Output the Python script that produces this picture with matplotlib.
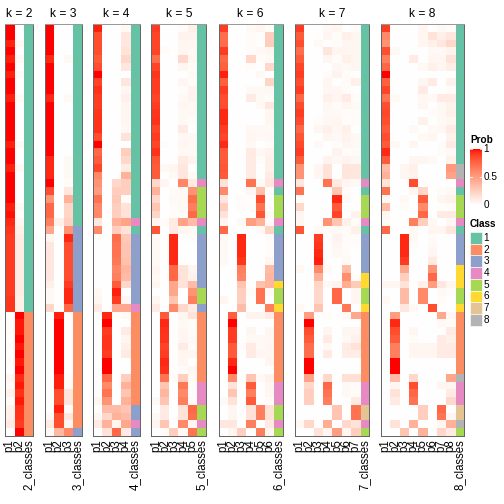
import matplotlib
matplotlib.use("Agg")
import matplotlib.pyplot as plt
import numpy as np
from matplotlib.patches import Rectangle
from matplotlib.colors import to_rgb

plt.rcParams["font.family"] = ["Liberation Sans", "DejaVu Sans"]

# class colours (Set2) used for the "k_classes" column and the legend
CLASS_COLORS = ["#66C2A5", "#FC8D62", "#8DA0CB", "#E78AC3",
                "#A6D854", "#FFD92F", "#E5C494", "#B3B3B3"]
CLASS_LABELS = ["1", "2", "3", "4", "5", "6", "7", "8"]

# ---- membership probabilities, one array per k (rows = samples) ----
p1_k2 = [1, 1, 0.96, 1, 0.97, 1, 0.97, 1, 1, 0.97, 1, 1, 1, 1, 1, 0.97, 1, 1,
         0.97, 1, 1, 1, 1, 0.97, 0.99, 0.95, 0.92, 0.9, 0.9, 0.9, 0.9, 0.9,
         0.9, 0.9, 0.9, 0.92, 0.92,
         0.0, 0.02, 0.02, 0.0, 0.02, 0.0, 0.02, 0.0, 0.05, 0.02, 0.07, 0.02,
         0.07, 0.08, 0.1, 0.0]
prob_k2 = np.column_stack([p1_k2, 1 - np.array(p1_k2)])
cls_k2 = [1] * 37 + [2] * 16

prob_k3 = np.array(
    [[1, 0, 0]] * 4 + [[0.95, 0, 0.03]] + [[1, 0, 0]] * 4 + [[0.95, 0, 0.03]]
    + [[1, 0, 0]] * 7 + [[0.95, 0, 0.03]] * 3 +
    [[1.0, 0, 0.02], [0.85, 0, 0.12], [0.55, 0, 0.4], [0.75, 0, 0.22],
     [0.75, 0, 0.22], [0.65, 0.08, 0.25], [0.45, 0, 0.55], [0.05, 0, 0.95],
     [0.12, 0, 0.85], [0.12, 0, 0.85], [0.12, 0, 0.85], [0.12, 0, 0.85],
     [0.12, 0, 0.85], [0.08, 0, 0.9], [0.03, 0, 0.95], [0.03, 0, 0.95],
     [0.2, 0, 0.75],
     [0, 0.97, 0.02], [0, 1, 0], [0, 1, 0], [0, 1, 0], [0, 1, 0], [0, 1, 0],
     [0, 1, 0], [0, 1, 0], [0, 0.97, 0.02], [0, 0.97, 0.02], [0, 0.85, 0.13],
     [0, 0.85, 0.13], [0, 0.97, 0.02], [0.03, 0.85, 0.12], [0.1, 0.85, 0.05],
     [0.03, 0.37, 0.6]])
cls_k3 = [1] * 26 + [3] * 11 + [2] * 15 + [3]

prob_k4 = np.array([
    [0.97, 0, 0, 0.03], [0.85, 0, 0, 0.12], [0.85, 0, 0, 0.12], [0.85, 0, 0, 0.15],
    [0.8, 0, 0, 0.2], [0.85, 0, 0, 0.12], [1.0, 0, 0, 0], [0.88, 0, 0, 0.12],
    [0.93, 0, 0, 0.05], [0.9, 0, 0, 0.08], [0.9, 0, 0, 0.05], [0.92, 0, 0, 0.05],
    [0.93, 0, 0, 0.05], [0.93, 0, 0, 0.04], [0.85, 0, 0, 0.15], [1.0, 0, 0, 0],
    [0.75, 0, 0, 0.25], [0.8, 0, 0, 0.2], [0.88, 0, 0, 0.1], [0.6, 0, 0, 0.4],
    [0.55, 0, 0.2, 0.25], [0.5, 0, 0.25, 0.25], [0.7, 0, 0.28, 0.02],
    [0.6, 0, 0.25, 0.15], [0.6, 0, 0.25, 0.15], [0.12, 0, 0.4, 0.48],
    [0.6, 0, 0.25, 0.15],
    [0, 0, 0.72, 0.28], [0, 0, 0.7, 0.3], [0, 0, 0.7, 0.3], [0, 0, 0.68, 0.32],
    [0, 0, 0.62, 0.38], [0, 0, 0.65, 0.35], [0, 0, 0.8, 0.2], [0.03, 0, 0.97, 0],
    [0.05, 0, 0.9, 0.05], [0.1, 0, 0.45, 0.45],
    [0, 0.95, 0.02, 0.03], [0, 1, 0, 0], [0, 0.9, 0, 0.1], [0, 0.92, 0, 0.05],
    [0, 0.92, 0, 0.08], [0, 0.9, 0, 0.1], [0, 1, 0, 0], [0, 1, 0, 0],
    [0, 0.75, 0, 0.25], [0, 0.6, 0, 0.4], [0, 0.7, 0, 0.3], [0.05, 0.55, 0, 0.4],
    [0, 0.35, 0.35, 0.3], [0.05, 0.2, 0.4, 0.35], [0.1, 0.4, 0.05, 0.45],
    [0, 0.15, 0.75, 0.1]])
cls_k4 = [1] * 25 + [4] + [1] + [3] * 9 + [4] + [2] * 12 + [3, 3] + [4] + [3]

prob_k5 = np.array([
    [0.9, 0, 0, 0.02, 0.08], [0.88, 0, 0, 0.06, 0.06], [0.88, 0, 0, 0.05, 0.05],
    [0.88, 0.02, 0, 0.05, 0.03], [0.72, 0, 0, 0.2, 0.05], [0.88, 0, 0, 0.05, 0.02],
    [0.92, 0, 0, 0, 0.03], [0.9, 0, 0, 0.05, 0.02], [0.9, 0, 0, 0.02, 0.06],
    [0.88, 0, 0, 0.03, 0.06], [0.9, 0, 0, 0.05, 0.03], [0.92, 0, 0, 0.03, 0.03],
    [0.93, 0, 0, 0.03, 0.02], [0.88, 0, 0, 0.1, 0], [0.9, 0, 0, 0.04, 0.04],
    [0.88, 0.02, 0, 0.05, 0.03], [0.93, 0, 0, 0.03, 0.03], [0.82, 0, 0, 0.1, 0.06],
    [0.8, 0.03, 0.05, 0.12, 0], [0.8, 0, 0.03, 0.12, 0.03],
    [0.2, 0.05, 0, 0.62, 0.1], [0.4, 0, 0.02, 0.03, 0.55],
    [0.2, 0, 0.03, 0.03, 0.72], [0.3, 0, 0.02, 0.03, 0.65],
    [0.22, 0, 0.02, 0.02, 0.74], [0.05, 0.02, 0.1, 0.48, 0.35],
    [0.82, 0, 0.1, 0.05, 0.03],
    [0.03, 0, 0.95, 0, 0.02], [0.03, 0, 0.95, 0, 0], [0.03, 0, 0.95, 0, 0],
    [0.03, 0, 0.95, 0, 0], [0.05, 0, 0.75, 0.15, 0.05], [0.03, 0, 0.75, 0.15, 0.07],
    [0.05, 0, 0.45, 0.15, 0.35], [0, 0, 0.45, 0, 0.55], [0.05, 0, 0.3, 0, 0.65],
    [0.1, 0, 0.6, 0.2, 0.1],
    [0, 0.8, 0, 0.05, 0.15], [0, 0.95, 0, 0.03, 0.02], [0, 0.93, 0, 0.05, 0.02],
    [0, 0.92, 0, 0.05, 0.03], [0, 0.88, 0, 0.1, 0.02], [0, 0.9, 0, 0.05, 0.05],
    [0, 0.95, 0, 0.05, 0], [0, 0.93, 0, 0.02, 0.05], [0, 0.7, 0.02, 0.25, 0.03],
    [0, 0.3, 0, 0.68, 0.02], [0, 0.38, 0, 0.6, 0.02], [0.03, 0.3, 0, 0.65, 0.02],
    [0, 0.1, 0, 0.15, 0.75], [0.03, 0.1, 0, 0.15, 0.72], [0.05, 0.3, 0, 0.6, 0.05],
    [0, 0.02, 0.25, 0.03, 0.7]])
cls_k5 = ([1] * 20 + [4] + [5] * 4 + [4] + [1] + [3] * 7 + [5, 5] + [3]
          + [2] * 9 + [4] * 3 + [5, 5] + [4] + [5])

prob_k6 = np.array([
    [0.9, 0, 0, 0.03, 0.05, 0.02], [0.72, 0, 0, 0.02, 0.01, 0.25],
    [0.72, 0, 0, 0.02, 0, 0.26], [0.9, 0, 0, 0.02, 0.03, 0.05],
    [0.75, 0, 0, 0.2, 0.02, 0.03], [0.78, 0, 0, 0.02, 0, 0.2],
    [0.97, 0, 0, 0, 0.03, 0], [0.78, 0, 0, 0, 0, 0.22],
    [0.9, 0, 0, 0.03, 0.03, 0.04], [0.85, 0, 0, 0.1, 0.03, 0.02],
    [0.85, 0, 0, 0, 0.03, 0.12], [0.95, 0, 0, 0, 0, 0.05],
    [0.95, 0, 0, 0, 0, 0.05], [0.9, 0, 0, 0.04, 0.03, 0.03],
    [0.88, 0, 0, 0.05, 0.03, 0.04], [0.95, 0, 0, 0.03, 0, 0.02],
    [0.8, 0, 0, 0.1, 0.04, 0.06], [0.8, 0, 0, 0.1, 0.02, 0.08],
    [0.82, 0, 0, 0.1, 0, 0.08], [0.8, 0, 0, 0.1, 0, 0.1],
    [0.15, 0, 0, 0.7, 0.03, 0.12], [0.6, 0, 0, 0.05, 0.33, 0.02],
    [0.12, 0, 0.02, 0.01, 0.85, 0], [0.25, 0, 0.02, 0.02, 0.7, 0.01],
    [0.15, 0, 0, 0, 0.82, 0.03], [0.05, 0, 0.03, 0.5, 0.4, 0.02],
    [0.75, 0, 0, 0, 0.03, 0.22],
    [0.03, 0, 0.95, 0, 0, 0.02], [0.03, 0, 0.95, 0, 0, 0.02],
    [0.03, 0, 0.95, 0, 0, 0.02], [0.03, 0, 0.92, 0, 0, 0.05],
    [0, 0, 0.65, 0, 0, 0.35], [0, 0, 0.62, 0, 0, 0.38],
    [0, 0, 0.3, 0, 0.32, 0.38], [0, 0, 0.25, 0.02, 0.7, 0.03],
    [0.05, 0, 0.25, 0, 0.7, 0], [0, 0, 0.35, 0, 0, 0.65],
    [0, 0.78, 0, 0.06, 0.06, 0.1], [0, 1.0, 0, 0, 0, 0],
    [0, 0.9, 0, 0.05, 0, 0.05], [0, 0.9, 0, 0.03, 0.03, 0.04],
    [0, 0.8, 0.02, 0.1, 0.03, 0.05], [0, 0.8, 0, 0.1, 0.05, 0.05],
    [0, 0.95, 0, 0, 0, 0.05], [0, 1.0, 0, 0, 0, 0],
    [0, 0.6, 0, 0.3, 0.03, 0.07], [0, 0.15, 0, 0.8, 0, 0.05],
    [0, 0.3, 0, 0.65, 0, 0.05], [0.03, 0.15, 0, 0.8, 0, 0.02],
    [0, 0.05, 0, 0.15, 0.65, 0.15], [0, 0.05, 0, 0.15, 0.65, 0.15],
    [0.12, 0.12, 0, 0.65, 0, 0.11], [0, 0.05, 0.25, 0, 0.65, 0.05]])
cls_k6 = ([1] * 20 + [4] + [1] + [5] * 3 + [4] + [1] + [3] * 6 + [6] + [5, 5]
          + [6] + [2] * 9 + [4] * 3 + [5, 5] + [4] + [5])

prob_k7 = np.array([
    [0.9, 0, 0, 0.03, 0.05, 0, 0.02], [0.8, 0, 0, 0.05, 0.02, 0.08, 0.05],
    [0.85, 0, 0.03, 0, 0.02, 0.05, 0.05], [0.72, 0, 0, 0.13, 0.05, 0.05, 0.05],
    [0.8, 0, 0, 0.05, 0.02, 0.08, 0.05], [0.88, 0, 0, 0, 0.04, 0.03, 0.05],
    [0.9, 0, 0, 0.02, 0.06, 0.02, 0], [0.85, 0, 0, 0.05, 0, 0.02, 0.08],
    [0.9, 0, 0, 0.04, 0.04, 0.02, 0], [0.75, 0, 0, 0.08, 0.05, 0.1, 0.02],
    [0.86, 0, 0, 0.04, 0.02, 0.05, 0.03], [0.9, 0, 0, 0.03, 0.03, 0.02, 0.02],
    [0.86, 0, 0.02, 0.04, 0.05, 0.01, 0.02], [0.75, 0, 0.05, 0.08, 0.04, 0.08, 0],
    [0.82, 0, 0, 0.05, 0.03, 0.06, 0.04], [0.87, 0, 0.03, 0, 0.02, 0.05, 0.03],
    [0.9, 0, 0, 0, 0.06, 0.02, 0.02], [0.8, 0, 0, 0.06, 0.04, 0.06, 0.04],
    [0.55, 0, 0.05, 0.15, 0, 0.13, 0.12], [0.55, 0, 0.05, 0.15, 0, 0.13, 0.12],
    [0.12, 0, 0, 0.7, 0.1, 0.05, 0.03], [0.7, 0, 0, 0, 0.28, 0.02, 0],
    [0.02, 0, 0, 0, 0.95, 0.03, 0], [0.2, 0, 0, 0, 0.8, 0, 0],
    [0.05, 0, 0, 0, 0.88, 0, 0.07], [0.05, 0, 0, 0.55, 0.3, 0.08, 0.02],
    [0.82, 0, 0.03, 0.02, 0.03, 0.02, 0.08],
    [0, 0, 0.9, 0, 0.06, 0.02, 0.02], [0, 0, 0.92, 0, 0.05, 0.02, 0.01],
    [0, 0, 0.95, 0, 0.03, 0.02, 0], [0, 0, 0.97, 0, 0, 0.03, 0],
    [0.03, 0, 0.6, 0.03, 0, 0.34, 0], [0, 0, 0.4, 0, 0, 0.58, 0.02],
    [0, 0, 0.22, 0.03, 0.06, 0.42, 0.27], [0, 0, 0.2, 0, 0.75, 0, 0.05],
    [0, 0, 0.2, 0, 0.75, 0, 0.05], [0.03, 0, 0.3, 0, 0, 0.67, 0],
    [0, 0.5, 0, 0.02, 0, 0.03, 0.45], [0, 1.0, 0, 0, 0, 0, 0],
    [0, 0.85, 0, 0.05, 0, 0.05, 0.05], [0, 0.8, 0, 0.1, 0, 0.03, 0.07],
    [0, 0.72, 0, 0.03, 0, 0.1, 0.15], [0, 0.72, 0, 0.1, 0, 0.09, 0.09],
    [0, 1.0, 0, 0, 0, 0, 0], [0, 1.0, 0, 0, 0, 0, 0],
    [0, 0.48, 0, 0.2, 0, 0.16, 0.16], [0, 0.2, 0, 0.75, 0, 0.03, 0.02],
    [0, 0.25, 0, 0.7, 0, 0.03, 0.02], [0, 0.25, 0, 0.65, 0, 0, 0.1],
    [0, 0, 0, 0, 0.3, 0, 0.7], [0, 0, 0, 0, 0.3, 0, 0.7],
    [0.03, 0.2, 0, 0.42, 0, 0.2, 0.15], [0, 0, 0.15, 0.05, 0.5, 0.05, 0.25]])
cls_k7 = ([1] * 20 + [4] + [1] + [5] * 3 + [4] + [1] + [3] * 5 + [6, 6]
          + [5, 5] + [6] + [2] * 9 + [4] * 3 + [7, 7] + [4] + [5])

prob_k8 = np.array([
    [0.9, 0, 0, 0, 0.05, 0, 0.03, 0.02], [0.6, 0, 0, 0, 0.05, 0.15, 0.08, 0.12],
    [0.55, 0, 0, 0, 0.05, 0.08, 0.12, 0.2], [0.85, 0.03, 0, 0, 0, 0.03, 0.03, 0.06],
    [0.65, 0, 0, 0.1, 0, 0.05, 0.05, 0.15], [0.75, 0, 0, 0, 0.03, 0.08, 0.05, 0.09],
    [1.0, 0, 0, 0, 0, 0, 0, 0], [0.78, 0, 0, 0, 0.05, 0.1, 0, 0.07],
    [0.88, 0, 0, 0, 0.1, 0, 0, 0.02], [0.7, 0.03, 0, 0, 0.04, 0.03, 0.1, 0.1],
    [0.85, 0, 0, 0, 0.05, 0, 0.03, 0.07], [0.87, 0, 0, 0, 0, 0.02, 0.03, 0.08],
    [0.85, 0, 0, 0, 0.07, 0, 0.03, 0.05], [0.8, 0, 0, 0.03, 0, 0.03, 0.04, 0.1],
    [0.85, 0, 0, 0, 0.03, 0.05, 0, 0.07], [0.8, 0.03, 0, 0.05, 0, 0, 0.02, 0.1],
    [0.95, 0, 0, 0, 0, 0, 0.02, 0.03], [0.8, 0, 0, 0.05, 0.05, 0.03, 0, 0.07],
    [0.35, 0, 0.05, 0.08, 0, 0, 0, 0.52], [0.4, 0, 0.05, 0.07, 0, 0, 0, 0.48],
    [0.15, 0, 0, 0.85, 0, 0, 0, 0], [0.7, 0, 0, 0.05, 0.2, 0, 0.02, 0.03],
    [0.05, 0, 0.03, 0, 0.8, 0, 0.05, 0.07], [0.35, 0, 0.02, 0, 0.6, 0, 0.01, 0.02],
    [0.05, 0, 0, 0, 0.75, 0, 0.1, 0.1], [0.03, 0, 0, 0.65, 0.25, 0.03, 0, 0.04],
    [0.75, 0, 0, 0.03, 0, 0.05, 0.05, 0.12],
    [0, 0, 0.95, 0.03, 0, 0.02, 0, 0], [0, 0, 0.95, 0.02, 0, 0.03, 0, 0],
    [0, 0, 0.95, 0, 0, 0.05, 0, 0], [0, 0, 0.9, 0, 0, 0.1, 0, 0],
    [0, 0, 0.45, 0, 0, 0.55, 0, 0], [0, 0, 0.25, 0, 0, 0.75, 0, 0],
    [0.05, 0.05, 0.15, 0, 0.08, 0.5, 0.12, 0.05], [0, 0, 0.35, 0, 0.6, 0, 0.03, 0.02],
    [0.03, 0, 0.35, 0, 0.6, 0, 0.02, 0], [0, 0, 0.12, 0.03, 0, 0.85, 0, 0],
    [0, 0.5, 0, 0, 0, 0, 0.45, 0.05], [0, 0.95, 0, 0, 0, 0, 0.03, 0.02],
    [0, 0.85, 0, 0.05, 0, 0, 0, 0.1], [0, 0.8, 0, 0.02, 0, 0, 0.1, 0.08],
    [0, 0.65, 0, 0.05, 0.05, 0.05, 0.1, 0.1], [0, 0.65, 0, 0.05, 0.05, 0.05, 0.1, 0.1],
    [0, 1.0, 0, 0, 0, 0, 0, 0], [0, 1.0, 0, 0, 0, 0, 0, 0],
    [0, 0.35, 0, 0.2, 0, 0, 0, 0.45], [0, 0.05, 0, 0.85, 0, 0, 0.05, 0.05],
    [0, 0.15, 0, 0.75, 0, 0, 0, 0.1], [0, 0.1, 0, 0.7, 0, 0, 0, 0.2],
    [0, 0, 0, 0, 0.25, 0, 0.75, 0], [0, 0, 0, 0, 0.25, 0, 0.7, 0.05],
    [0, 0.15, 0, 0.4, 0, 0, 0.05, 0.4], [0, 0, 0.3, 0, 0.4, 0, 0.2, 0.1]])
cls_k8 = ([1] * 18 + [8, 8] + [4] + [1] + [5] * 3 + [4] + [1] + [3] * 4
          + [6] * 3 + [5, 5] + [6] + [2] * 8 + [8] + [4] * 3 + [7, 7] + [8] + [5])

PANELS = [(2, prob_k2, cls_k2), (3, prob_k3, cls_k3), (4, prob_k4, cls_k4),
          (5, prob_k5, cls_k5), (6, prob_k6, cls_k6), (7, prob_k7, cls_k7),
          (8, prob_k8, cls_k8)]
# left / right edge of each heatmap body, in pixels
PANEL_X = [(5, 33.3), (44.7, 82), (93, 139.7), (151.3, 206.3),
           (218.7, 282.7), (295, 369.3), (381, 464.3)]
W = H = 504
BODY_TOP, BODY_BOT = 24, 436


# white -> red ramp interpolated in CIE Lab (like colorRamp2)
_M = np.array([[0.4124, 0.3576, 0.1805],
               [0.2126, 0.7152, 0.0722],
               [0.0193, 0.1192, 0.9505]])
_WHITE = np.array([0.95047, 1.0, 1.08883])


def _rgb2lab(rgb):
    c = np.asarray(rgb, float)
    lin = np.where(c <= 0.04045, c / 12.92, ((c + 0.055) / 1.055) ** 2.4)
    t = (_M @ lin) / _WHITE
    f = np.where(t > 0.008856, np.cbrt(t), 7.787 * t + 16 / 116)
    return np.array([116 * f[1] - 16, 500 * (f[0] - f[1]), 200 * (f[1] - f[2])])


def _lab2rgb(lab):
    L, a, b = lab
    fy = (L + 16) / 116
    f = np.array([fy + a / 500, fy, fy - b / 200])
    t = np.where(f ** 3 > 0.008856, f ** 3, (f - 16 / 116) / 7.787)
    lin = np.linalg.solve(_M, t * _WHITE)
    c = np.where(lin <= 0.0031308, 12.92 * lin, 1.055 * np.abs(lin) ** (1 / 2.4) - 0.055)
    return np.clip(c, 0, 1)


LAB0, LAB1 = _rgb2lab((1, 1, 1)), _rgb2lab((1, 0, 0))
RAMP = np.array([_lab2rgb(LAB0 + (LAB1 - LAB0) * v) for v in np.linspace(0, 1, 256)])


def prob_color(v):
    idx = np.clip(np.round(np.asarray(v) * 255).astype(int), 0, 255)
    return RAMP[idx]


fig = plt.figure(figsize=(W / 72, H / 72), dpi=72)

for (k, prob, cls), (x0, x1) in zip(PANELS, PANEL_X):
    prob = np.asarray(prob, float)
    n = prob.shape[0]
    img = np.zeros((n, k + 1, 3))
    img[:, :k] = prob_color(prob)
    img[:, k] = [to_rgb(CLASS_COLORS[c - 1]) for c in cls]
    ax = fig.add_axes([x0 / W, 1 - BODY_BOT / H, (x1 - x0) / W,
                       (BODY_BOT - BODY_TOP) / H])
    ax.imshow(img, aspect="auto", interpolation="nearest",
              extent=(0, k + 1, n, 0))
    ax.set_yticks([])
    ax.set_xticks(np.arange(k + 1) + 0.5)
    ax.set_xticklabels([f"p{i + 1}" for i in range(k)] + [f"{k}_classes"],
                       rotation=90, fontsize=11.5)
    ax.tick_params(axis="x", length=0, pad=3)
    for s in ax.spines.values():
        s.set_color("#666666")
        s.set_linewidth(1.0)
    ax.spines["top"].set_color("#999999")
    ax.set_title(f"k = {k}", fontsize=12, pad=7)

# legends, drawn in pixel coordinates
lg = fig.add_axes([0, 0, 1, 1])
lg.set_xlim(0, W)
lg.set_ylim(H, 0)
lg.axis("off")

lg.text(470, 143, "Prob", fontsize=10, fontweight="bold", va="baseline")
bar_top, bar_bot = 149, 205
grad = prob_color(np.linspace(1, 0, 200))[:, None, :]
lg.imshow(grad, extent=(470, 481.5, bar_bot, bar_top), aspect="auto",
          interpolation="bilinear", zorder=2)
for v, lab in [(1, "1"), (0.5, "0.5"), (0, "0")]:
    y = bar_bot - v * (bar_bot - bar_top)
    lg.plot([470, 472], [y, y], color="white", lw=0.8, zorder=3)
    lg.plot([479.5, 481.5], [y, y], color="white", lw=0.8, zorder=3)
    lg.text(483.5, y, lab, fontsize=10, va="center", ha="left")

lg.text(470, 227, "Class", fontsize=10, fontweight="bold", va="baseline")
for i, (col, lab) in enumerate(zip(CLASS_COLORS, CLASS_LABELS)):
    y = 232 + i * 11.7
    lg.add_patch(Rectangle((470, y), 11.5, 11.7, facecolor=col,
                           edgecolor="white", lw=0.6))
    lg.text(483.5, y + 5.9, lab, fontsize=10, va="center", ha="left")
lg.set_xlim(0, W)
lg.set_ylim(H, 0)

fig.savefig("out.png", dpi=72)
